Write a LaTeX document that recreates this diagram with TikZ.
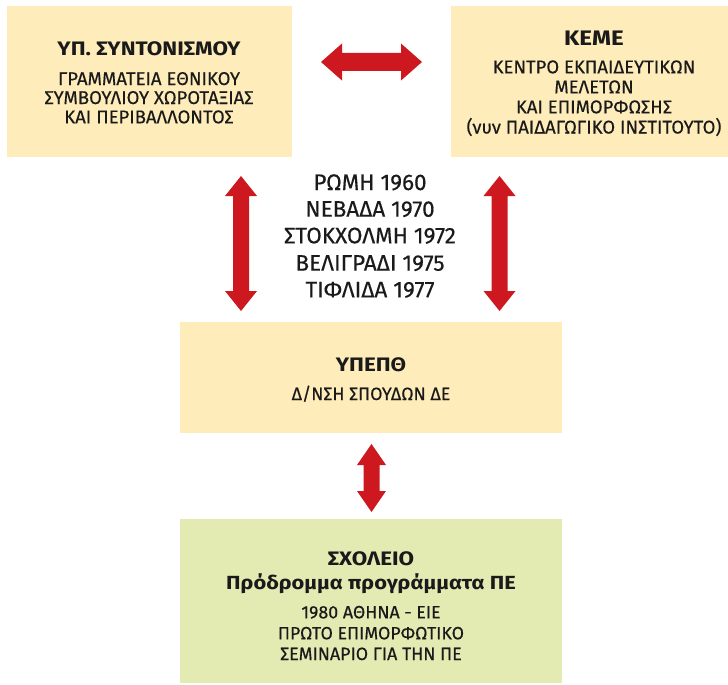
\documentclass[tikz,border=0pt]{standalone}
\usepackage{fontspec}
\setmainfont{Fira Sans}[UprightFeatures={FakeBold=0.35}, BoldFeatures={FakeStretch=1.15}]
\definecolor{ybox}{RGB}{254,236,186}
\definecolor{gbox}{RGB}{227,234,178}
\definecolor{redarr}{RGB}{204,24,30}
\definecolor{ink}{RGB}{26,26,26}
\newcommand\dblarrV[6]{% x, ytop, ybot, head half, shaft half, head length
  \fill[redarr] (#1,#2) -- ({#1+#4},{#2+#6}) -- ({#1+#5},{#2+#6}) -- ({#1+#5},{#3-#6})
   -- ({#1+#4},{#3-#6}) -- (#1,#3) -- ({#1-#4},{#3-#6}) -- ({#1-#5},{#3-#6})
   -- ({#1-#5},{#2+#6}) -- ({#1-#4},{#2+#6}) -- cycle;}
\newcommand\dblarrH[6]{% y, xleft, xright, head half, shaft half, head length
  \fill[redarr] (#2,#1) -- ({#2+#6},{#1-#4}) -- ({#2+#6},{#1-#5}) -- ({#3-#6},{#1-#5})
   -- ({#3-#6},{#1-#4}) -- (#3,#1) -- ({#3-#6},{#1+#4}) -- ({#3-#6},{#1+#5})
   -- ({#2+#6},{#1+#5}) -- ({#2+#6},{#1+#4}) -- cycle;}
\tikzset{
  box/.style={inner sep=0, outer sep=0, draw=none},
  ln/.style={anchor=base, inner sep=0, text=ink},
  sub/.style={ln, font=\fontsize{18.5}{20}\selectfont},
  subs/.style={ln, font=\fontsize{17.8}{20}\selectfont},
  ttl/.style={ln, font=\bfseries\fontsize{19.5}{21}\selectfont},
  big/.style={ln, font=\bfseries\fontsize{21}{23}\selectfont},
  lst/.style={ln, font=\fontsize{22.5}{24}\selectfont},
}
\begin{document}
\begin{tikzpicture}[x=1pt,y=-1pt]
\useasboundingbox[fill=white] (0,0) rectangle (728,685);
% boxes
\node[box, fill=ybox, minimum width=285pt, minimum height=151pt] (b1) at (149.5,81.5) {};
\node[box, fill=ybox, minimum width=277pt, minimum height=151pt] (b2) at (589.5,81.5) {};
\node[box, fill=ybox, minimum width=382pt, minimum height=111pt] (b3) at (371,377.5) {};
\node[box, fill=gbox, minimum width=382pt, minimum height=164pt] (b4) at (371,601) {};
% box 1 text
\node[ttl] (b1t) at (149,56) {ΥΠ. ΣΥΝΤΟΝΙΣΜΟΥ};
\node[sub] (b1a) at (149,85) {ΓΡΑΜΜΑΤΕΙΑ ΕΘΝΙΚΟΥ};
\node[sub] (b1b) at (149,104) {ΣΥΜΒΟΥΛΙΟΥ ΧΩΡΟΤΑΞΙΑΣ};
\node[sub] (b1c) at (149,123.3) {ΚΑΙ ΠΕΡΙΒΑΛΛΟΝΤΟΣ};
% box 2 text
\node[big] (b2t) at (594,46) {ΚΕΜΕ};
\node[sub] (b2a) at (594,73.3) {ΚΕΝΤΡΟ ΕΚΠΑΙΔΕΥΤΙΚΩΝ};
\node[sub] (b2b) at (594,93.3) {ΜΕΛΕΤΩΝ};
\node[sub] (b2c) at (594,113.3) {ΚΑΙ ΕΠΙΜΟΡΦΩΣΗΣ};
\node[sub] (b2d) at (594,133.5) {(νυν ΠΑΙΔΑΓΩΓΙΚΟ ΙΝΣΤΙΤΟΥΤΟ)};
% list
\node[lst] (l1) at (370,190) {ΡΩΜΗ 1960};
\node[lst] (l2) at (370,216.7) {ΝΕΒΑΔΑ 1970};
\node[lst] (l3) at (370,243.3) {ΣΤΟΚΧΟΛΜΗ 1972};
\node[lst] (l4) at (370,270.7) {ΒΕΛΙΓΡΑΔΙ 1975};
\node[lst] (l5) at (370,297.3) {ΤΙΦΛΙΔΑ 1977};
% box 3 text
\node[ttl] (b3t) at (371,371.7) {ΥΠΕΠΘ};
\node[subs] (b3a) at (371,400) {Δ/ΝΣΗ ΣΠΟΥΔΩΝ ΔΕ};
% box 4 text
\node[ttl] (b4t) at (371,565) {ΣΧΟΛΕΙΟ};
\node[ttl, font=\bfseries\fontsize{19}{21}\selectfont] (b4u) at (371,589) {Πρόδρομμα προγράμματα ΠΕ};
\node[subs] (b4a) at (371,618.3) {1980 ΑΘΗΝΑ - ΕΙΕ};
\node[subs] (b4b) at (371,639.3) {ΠΡΩΤΟ ΕΠΙΜΟΡΦΩΤΙΚΟ};
\node[subs] (b4c) at (371,660) {ΣΕΜΙΝΑΡΙΟ ΓΙΑ ΤΗΝ ΠΕ};
% arrows
\dblarrH{62}{321}{422}{18.5}{9}{21}
\dblarrV{241}{176}{311}{16}{8}{20}
\dblarrV{499.5}{176}{311}{16}{8}{20}
\dblarrV{371.5}{444}{512}{14.5}{8}{21}
\end{tikzpicture}
\end{document}
